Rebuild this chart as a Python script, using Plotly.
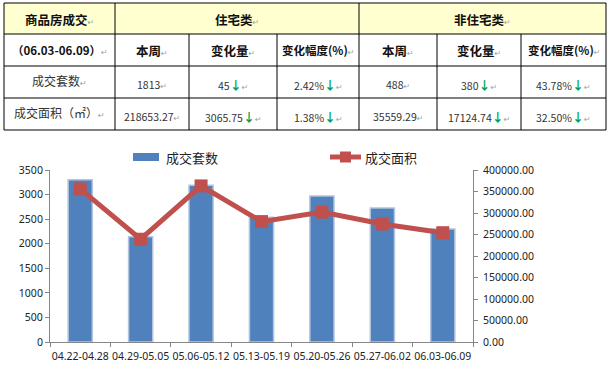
import plotly.graph_objects as go

# ---------------- data ----------------
weeks = ["04.22-04.28", "04.29-05.05", "05.06-05.12", "05.13-05.19",
         "05.20-05.26", "05.27-06.02", "06.03-06.09"]
units = [3300, 2140, 3190, 2540, 2970, 2726, 2301]
area = [356000, 239000, 363000, 280000, 302000, 274403.05, 254212.56]
series_names = ["成交套数", "成交面积"]

table_title = "商品房成交"
period = "（06.03-06.09）"
groups = ["住宅类", "非住宅类"]
col_heads = ["本周", "变化量", "变化幅度(%)"]
row_labels = ["成交套数", "成交面积（㎡）"]
res_now = ["1813", "218653.27"]
res_chg = ["45", "3065.75"]
res_pct = ["2.42%", "1.38%"]
non_now = ["488", "35559.29"]
non_chg = ["380", "17124.74"]
non_pct = ["43.78%", "32.50%"]

# ---------------- geometry ----------------
W, H = 609, 369
L, R, T, B = 50, 136, 170, 27
PW, PH = W - L - R, H - T - B

def px(x):
    return (x - L) / PW

def py(y):
    return (H - B - y) / PH

BLUE = "#4F81BD"
RED = "#C0504D"
CJK = "Noto Sans CJK SC, DejaVu Sans"
PM = "<span style='color:#a0a0a0;font-size:8px'>↵</span>"
ARROW = "<span style='color:#00A050;font-size:12px'><b>↓</b></span>"

fig = go.Figure()
fig.add_trace(go.Bar(x=weeks, y=units, name=series_names[0], marker_color=BLUE,
                     marker_line=dict(color="#B4C4DC", width=1.5),
                     width=0.4, yaxis="y"))
fig.add_trace(go.Scatter(x=weeks, y=area, name=series_names[1], mode="lines+markers",
                         line=dict(color=RED, width=5),
                         marker=dict(symbol="square", size=13, color=RED),
                         yaxis="y2"))

shapes = []
annotations = []

# ---------------- table ----------------
ys = [3, 34, 66, 98, 130]
xs = [4, 115, 189, 277, 359, 437, 521, 606]
shapes.append(dict(type="rect", xref="paper", yref="paper", x0=px(xs[0]), x1=px(xs[-1]),
                   y0=py(ys[0]), y1=py(ys[1]), fillcolor="#FFFFD0", line=dict(width=0), layer="below"))
for y in ys:
    shapes.append(dict(type="line", xref="paper", yref="paper", x0=px(xs[0]), x1=px(xs[-1]),
                       y0=py(y), y1=py(y), line=dict(color="#000", width=1)))
for i, x in enumerate(xs):
    y_top = ys[0] if i in (0, 1, 4, 7) else ys[1]
    shapes.append(dict(type="line", xref="paper", yref="paper", x0=px(x), x1=px(x),
                       y0=py(y_top), y1=py(ys[-1]), line=dict(color="#000", width=1)))

def cell(text, cx, cy, size=11, color="#333", bold=False):
    t = f"<b>{text}</b>" if bold else text
    annotations.append(dict(text=t + PM, x=px(cx), y=py(cy), xref="paper", yref="paper",
                            showarrow=False, xanchor="center", yanchor="middle",
                            font=dict(family=CJK, size=size, color=color)))

def mid(a, b):
    return (a + b) / 2

cell(table_title, mid(xs[0], xs[1]), 19, 12.5, "#111", True)
cell(groups[0], mid(xs[1], xs[4]), 19, 12.5, "#111", True)
cell(groups[1], mid(xs[4], xs[7]), 19, 12.5, "#111", True)
cell(period, mid(xs[0], xs[1]), 50, 11.5, "#111", True)
for k in range(3):
    sz = 11.5 if k == 2 else 12.5
    cell(col_heads[k], mid(xs[1 + k], xs[2 + k]), 50, sz, "#111", True)
    cell(col_heads[k], mid(xs[4 + k], xs[5 + k]), 50, sz, "#111", True)

row_y = [84, 116]
for r in range(2):
    cell(row_labels[r], mid(xs[0], xs[1]), row_y[r] - 4, 12, "#333")
    cell(res_now[r], mid(xs[1], xs[2]), row_y[r], 10.5)
    cell(res_chg[r] + ARROW, mid(xs[2], xs[3]), row_y[r], 10.5)
    cell(res_pct[r] + ARROW, mid(xs[3], xs[4]), row_y[r], 10.5)
    cell(non_now[r], mid(xs[4], xs[5]), row_y[r], 10.5)
    cell(non_chg[r] + ARROW, mid(xs[5], xs[6]), row_y[r], 10.5)
    cell(non_pct[r] + ARROW, mid(xs[6], xs[7]), row_y[r], 10.5)

# ---------------- legend (manual) ----------------
shapes.append(dict(type="rect", xref="paper", yref="paper", x0=px(133), x1=px(159),
                   y0=py(161), y1=py(153), fillcolor=BLUE, line=dict(width=0)))
annotations.append(dict(text=series_names[0], x=px(164), y=py(157), xref="paper", yref="paper",
                        showarrow=False, xanchor="left", yanchor="middle",
                        font=dict(family=CJK, size=13, color="#222")))
shapes.append(dict(type="line", xref="paper", yref="paper", x0=px(330), x1=px(361),
                   y0=py(157), y1=py(157), line=dict(color=RED, width=5)))
shapes.append(dict(type="rect", xref="paper", yref="paper", x0=px(340), x1=px(351),
                   y0=py(162.5), y1=py(151.5), fillcolor=RED, line=dict(width=0)))
annotations.append(dict(text=series_names[1], x=px(363), y=py(157), xref="paper", yref="paper",
                        showarrow=False, xanchor="left", yanchor="middle",
                        font=dict(family=CJK, size=13, color="#222")))

tickfont = dict(family="Noto Sans, " + CJK, size=10.5, color="#222")
fig.update_layout(
    width=W, height=H, margin=dict(l=L, r=R, t=T, b=B),
    paper_bgcolor="white", plot_bgcolor="white", showlegend=False,
    shapes=shapes, annotations=annotations,
    xaxis=dict(type="category", showline=True, linecolor="#868686", linewidth=1,
               ticks="outside", tickson="boundaries", ticklen=4, tickcolor="#868686",
               showgrid=False, tickfont=tickfont, tickangle=0, automargin=False,
               ticklabelstandoff=4),
    yaxis=dict(range=[0, 3500], dtick=500, showline=True, linecolor="#868686", linewidth=1,
               ticks="outside", ticklen=4, tickcolor="#868686", showgrid=False, zeroline=False,
               tickfont=tickfont, automargin=False),
    yaxis2=dict(range=[0, 400000], dtick=50000, overlaying="y", side="right",
                tickformat=".2f", showline=True, linecolor="#868686", linewidth=1,
                ticks="outside", ticklen=4, tickcolor="#868686", showgrid=False, zeroline=False,
                tickfont=tickfont, automargin=False, ticklabelstandoff=3),
)

fig.write_html("out.html", config={"displayModeBar": False},
               post_script="document.body.style.margin='0';document.body.style.overflow='hidden';")
